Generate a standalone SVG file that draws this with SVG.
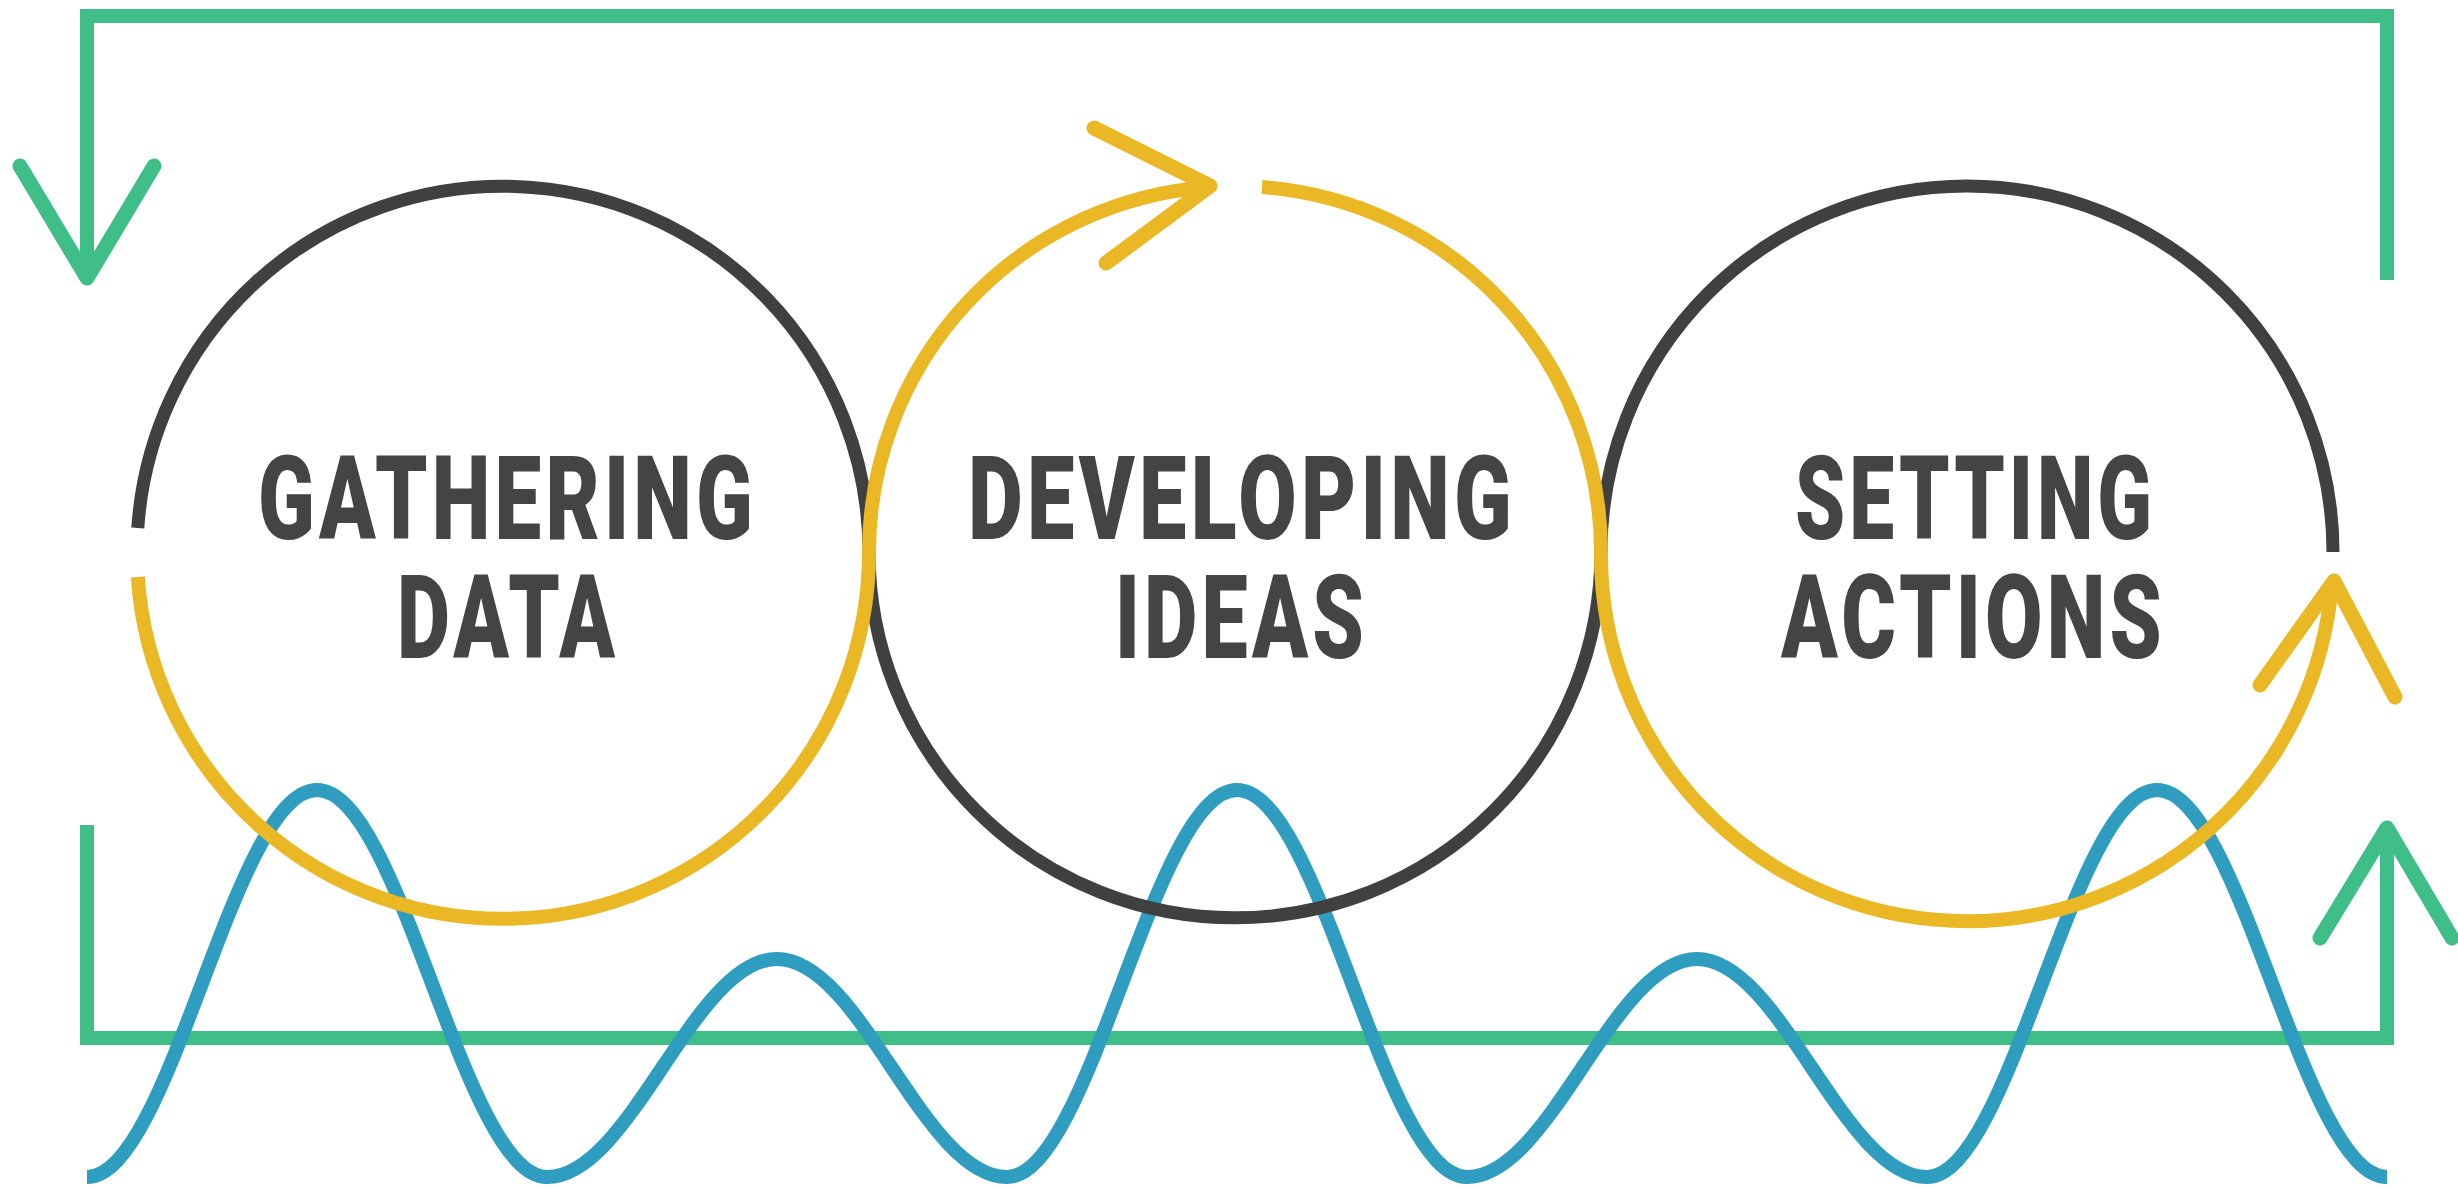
<svg xmlns="http://www.w3.org/2000/svg" width="2458" height="1189" viewBox="0 0 2458 1189">
  <defs>
    <style>
      .green { fill: none; stroke: #40BE88; stroke-width: 14; stroke-linejoin: miter; stroke-linecap: butt; }
      .green-head { fill: none; stroke: #40BE88; stroke-width: 15; stroke-linejoin: round; stroke-linecap: round; }
      .blue { fill: none; stroke: #2E9DBF; stroke-width: 14; stroke-linecap: butt; }
      .dark { fill: none; stroke: #404040; stroke-width: 13; stroke-linecap: butt; }
      .yellow { fill: none; stroke: #E9B824; stroke-width: 14; stroke-linecap: butt; }
      .yellow-head { fill: none; stroke: #E9B824; stroke-width: 15; stroke-linejoin: round; stroke-linecap: round; }
      .label { font-family: Roboto, "Liberation Sans", "DejaVu Sans", sans-serif; font-weight: 900; font-size: 100px; letter-spacing: 5px; fill: #444444; }
    </style>
  </defs>
  <rect width="2458" height="1189" fill="#FFFFFF"/>

  <g id="connectors">
    <g id="feedback-top">
      <path class="green" d="M 2387 280 V 16 H 87 V 274"/>
      <path class="green-head" d="M 20 166 L 87 278 L 154 166"/>
    </g>
    <g id="feedback-bottom">
      <path class="green" d="M 87 825 V 1038 H 2387 V 832"/>
      <path class="green-head" d="M 2320 938 L 2387 828 L 2452 938"/>
    </g>
    <g id="wave">
      <path class="blue" d="M 87 1177 C 170.7 1177 233.3 790 317 790 C 400.7 790 463.3 1177 547 1177 C 630.7 1177 693.3 959 777 959 C 860.7 959 923.3 1177 1007 1177 C 1090.7 1177 1153.3 790 1237 790 C 1320.7 790 1383.3 1177 1467 1177 C 1550.7 1177 1613.3 959 1697 959 C 1780.7 959 1843.3 1177 1927 1177 C 2010.7 1177 2073.3 790 2157 790 C 2240.7 790 2303.3 1177 2387 1177"/>
    </g>
    <g id="dark-loop">
      <path class="dark" d="M 137.8 528 A 366 366 0 0 1 869 552 A 366 366 0 0 0 1601 552 A 366 366 0 0 1 2333 552"/>
    </g>
    <g id="yellow-loop-1">
      <path class="yellow" d="M 137.8 577 A 366 366 0 0 0 869 552 A 366 366 0 0 1 1210 187"/>
      <path class="yellow-head" d="M 1094 128 L 1210 186 L 1106 263"/>
    </g>
    <g id="yellow-loop-2">
      <path class="yellow" d="M 1262 187 A 366 366 0 0 1 1601 552 A 366 366 0 0 0 2332 582"/>
      <path class="yellow-head" d="M 2260 685 L 2334 581 L 2395 697"/>
    </g>
  </g>

  <g id="gathering-data">
    <text class="label" transform="translate(258 539) scale(1 1.17)" textLength="499" lengthAdjust="spacingAndGlyphs">GATHERING</text>
    <text class="label" transform="translate(397 658) scale(1 1.17)" textLength="222" lengthAdjust="spacingAndGlyphs">DATA</text>
  </g>
  <g id="developing-ideas">
    <text class="label" transform="translate(968 539) scale(1 1.17)" textLength="548" lengthAdjust="spacingAndGlyphs">DEVELOPING</text>
    <text class="label" transform="translate(1115 658) scale(1 1.17)" textLength="253" lengthAdjust="spacingAndGlyphs">IDEAS</text>
  </g>
  <g id="setting-actions">
    <text class="label" transform="translate(1795 539) scale(1 1.17)" textLength="361" lengthAdjust="spacingAndGlyphs">SETTING</text>
    <text class="label" transform="translate(1781 658) scale(1 1.17)" textLength="385" lengthAdjust="spacingAndGlyphs">ACTIONS</text>
  </g>
</svg>
